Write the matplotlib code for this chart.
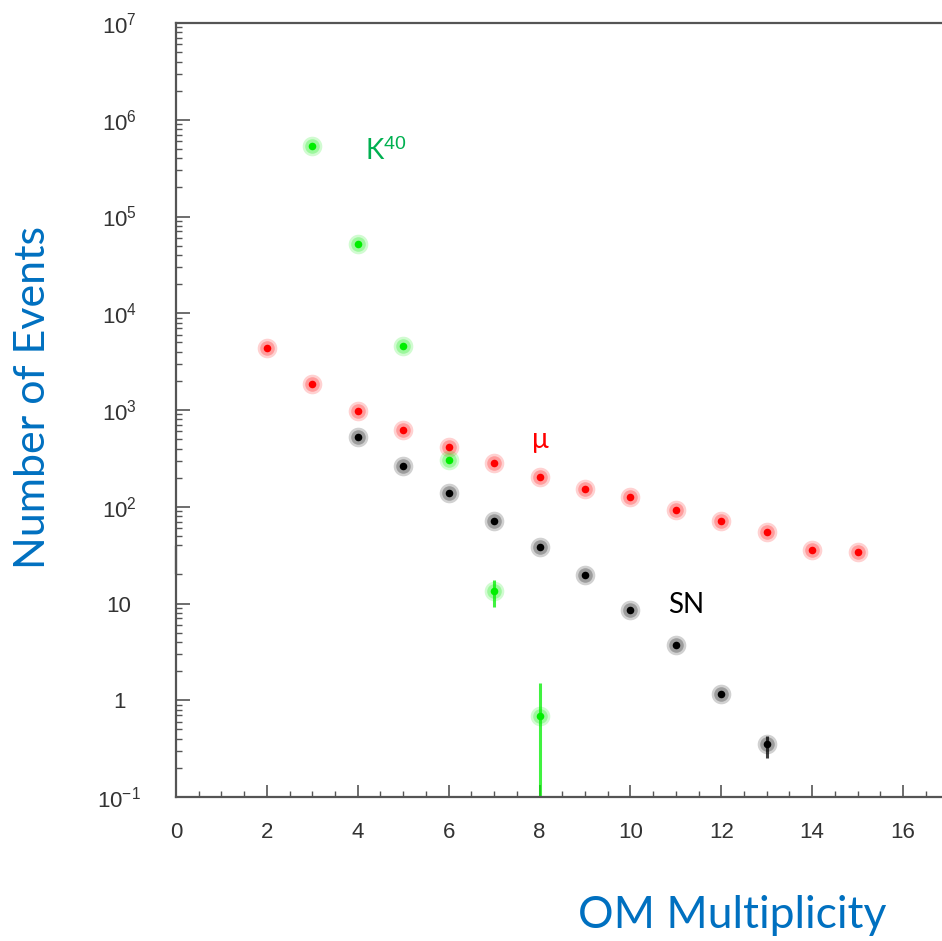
import matplotlib
matplotlib.use("Agg")
import matplotlib.pyplot as plt
import numpy as np
from matplotlib.ticker import FixedLocator, MultipleLocator

plt.rcParams['mathtext.fontset'] = 'custom'
plt.rcParams['mathtext.rm'] = 'Liberation Sans'
plt.rcParams['mathtext.it'] = 'Liberation Sans:italic'

# multiplicity vs number of events
k40_x = [3, 4, 5, 6, 7, 8]
k40_y = [5.35e5, 5.2e4, 4.57e3, 303, 13.4, 0.68]

mu_x = [2, 3, 4, 5, 6, 7, 8, 9, 10, 11, 12, 13, 14, 15]
mu_y = [4360, 1850, 972, 618, 412, 282, 202, 152, 125, 92, 71, 54.5, 35.5, 33.8]

sn_x = [4, 5, 6, 7, 8, 9, 10, 11, 12, 13]
sn_y = [523, 262, 138, 70.8, 38, 19.6, 8.5, 3.7, 1.15, 0.35]

# visible error bars: (x, value, low, high)
err_k40 = [(7, 13.4, 9.1, 17.4), (8, 0.68, 0.01, 1.5)]
err_sn = [(13, 0.35, 0.25, 0.43)]

ytick_vals = [0.1, 1, 10, 1e2, 1e3, 1e4, 1e5, 1e6, 1e7]
ytick_labels = [r'$10^{-1}$', '1', '10', r'$10^{2}$', r'$10^{3}$', r'$10^{4}$',
                r'$10^{5}$', r'$10^{6}$', r'$10^{7}$']
xtick_vals = [0, 2, 4, 6, 8, 10, 12, 14, 16]

green = '#00ee00'
red = '#ff0000'
black = '#000000'
blue = '#0070c0'

fig = plt.figure(figsize=(9.42, 9.41), dpi=100)
W, H = 942., 941.
x0, x1 = 176., 176. + 17.5 * 45.44
y_top, y_bot = 23., 797.
ax = fig.add_axes([x0 / W, (H - y_bot) / H, (x1 - x0) / W, (y_bot - y_top) / H])

ax.set_yscale('log')
ax.set_xlim(0, 17.5)
ax.set_ylim(0.1, 1e7)


def draw_series(xs, ys, col, errs):
    for (x, v, lo, hi) in errs:
        ax.errorbar([x], [v], yerr=[[v - lo], [hi - v]], fmt='none',
                    ecolor=col, elinewidth=2.2, capsize=0, alpha=0.75, zorder=2,
                    clip_on=True)
    ax.scatter(xs, ys, s=200, color=col, alpha=0.18, linewidths=0, zorder=3)
    ax.scatter(xs, ys, s=110, color=col, alpha=0.25, linewidths=0, zorder=3)
    ax.scatter(xs, ys, s=30, color=col, linewidths=0, zorder=4)


draw_series(mu_x, mu_y, red, [])
draw_series(sn_x, sn_y, black, err_sn)
draw_series(k40_x, k40_y, green, err_k40)

# spines: broken left axis
for s in ['right', 'left']:
    ax.spines[s].set_visible(False)
spine_col = '#555555'
ax.spines['top'].set_color(spine_col)
ax.spines['bottom'].set_color(spine_col)
ax.spines['top'].set_linewidth(1.6)
ax.spines['bottom'].set_linewidth(1.6)
ax.plot([0, 0], [0.1, 38], color=spine_col, lw=1.6, clip_on=False, zorder=5)
ax.plot([0, 0], [20.5, 1e7], color=spine_col, lw=1.6, clip_on=False, zorder=5)

# ticks
ax.set_yticks(ytick_vals, ytick_labels)
minor = []
for e in range(-1, 7):
    for m in range(2, 10):
        v = m * 10.0 ** e
        if e == 1 and m == 3:
            continue
        minor.append(v)
ax.yaxis.set_minor_locator(FixedLocator(minor))
ax.yaxis.set_minor_formatter(plt.NullFormatter())
ax.set_xticks(xtick_vals)
ax.xaxis.set_minor_locator(MultipleLocator(0.5))

ax.tick_params(axis='y', which='major', direction='in', length=10, width=1.2,
               color=spine_col, labelsize=16, labelcolor='#333333', pad=41,
               right=False)
ax.tick_params(axis='y', which='minor', direction='in', length=4.5, width=1.0,
               color=spine_col, right=False)
ax.tick_params(axis='x', which='major', direction='in', length=9, width=1.2,
               color=spine_col, labelsize=16, labelcolor='#333333', pad=18,
               top=False)
ax.tick_params(axis='x', which='minor', direction='in', length=4.5, width=1.0,
               color=spine_col, top=False)
for lab in ax.get_yticklabels():
    lab.set_fontfamily('Liberation Sans')
    lab.set_ha('center')
for lab in ax.get_xticklabels():
    lab.set_fontfamily('Liberation Sans')

# annotations
ax.text(4.17, 4.7e5, r'K$^{40}$', color='#00b050', fontsize=20,
        family='Lato', ha='left', va='center')
ax.text(8.01, 488, 'μ', color=red, fontsize=20, family='Lato',
        ha='center', va='center')
ax.text(10.83, 9.6, 'SN', color=black, fontsize=20, family='Lato',
        ha='left', va='center')

ax.set_ylabel('Number of Events', color=blue, fontsize=31, family='Lato')
ax.yaxis.set_label_coords((52 - x0) / (x1 - x0), (y_bot - 397) / (y_bot - y_top))
ax.set_xlabel('OM Multiplicity', color=blue, fontsize=32, family='Lato')
ax.xaxis.set_label_coords((732 - x0) / (x1 - x0), (y_bot - 895) / (y_bot - y_top))

fig.savefig('out.png', dpi=100)
